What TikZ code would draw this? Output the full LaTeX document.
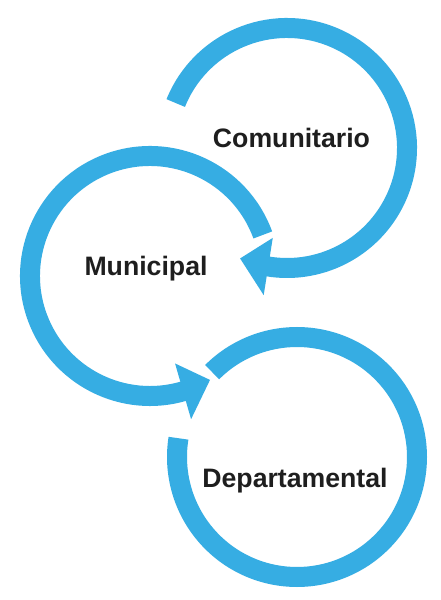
\documentclass[tikz,border=0pt]{standalone}
\usepackage{fontspec}
\setmainfont{Liberation Sans}
\usetikzlibrary{calc}
\definecolor{ringblue}{RGB}{54,173,227}
\definecolor{labeltext}{RGB}{30,30,30}
\begin{document}
\begin{tikzpicture}[x=0.75pt,y=0.75pt,
  ring/.style={draw=ringblue,line width=15pt},
  headfill/.style={fill=ringblue},
  label/.style={anchor=base,text=labeltext,font=\fontsize{20}{24}\selectfont\bfseries,inner sep=0pt}]
\fill[white] (0,0) rectangle (441,600);
\useasboundingbox (0,0) rectangle (441,600);
% centres
\coordinate (C1) at (287,452);
\coordinate (C2) at (150,324);
\coordinate (C3) at (297,143);
% ring 1 (Comunitario)
\draw[ring] ($(C1)+(158:120)$) arc[start angle=158,end angle=-99.5,radius=120];
\fill[headfill] ($(C1)+(-99:149)$) -- ($(C1)+(-113:120)$) -- ($(C1)+(-99:91)$) -- cycle;
% ring 2 (Municipal)
\draw[ring] ($(C2)+(20:120)$) arc[start angle=20,end angle=286.5,radius=120];
\fill[headfill] ($(C2)+(-74:149)$) -- ($(C2)+(-60:120)$) -- ($(C2)+(-74:91)$) -- cycle;
% ring 3 (Departamental)
\draw[ring] ($(C3)+(135:120)$) arc[start angle=135,end angle=-189,radius=120];
% labels
\node[label] (com) at (291.5,452) {Comunitario};
\node[label] (mun) at (146,324) {Municipal};
\node[label] (dep) at (295,112) {Departamental};
\end{tikzpicture}
\end{document}
